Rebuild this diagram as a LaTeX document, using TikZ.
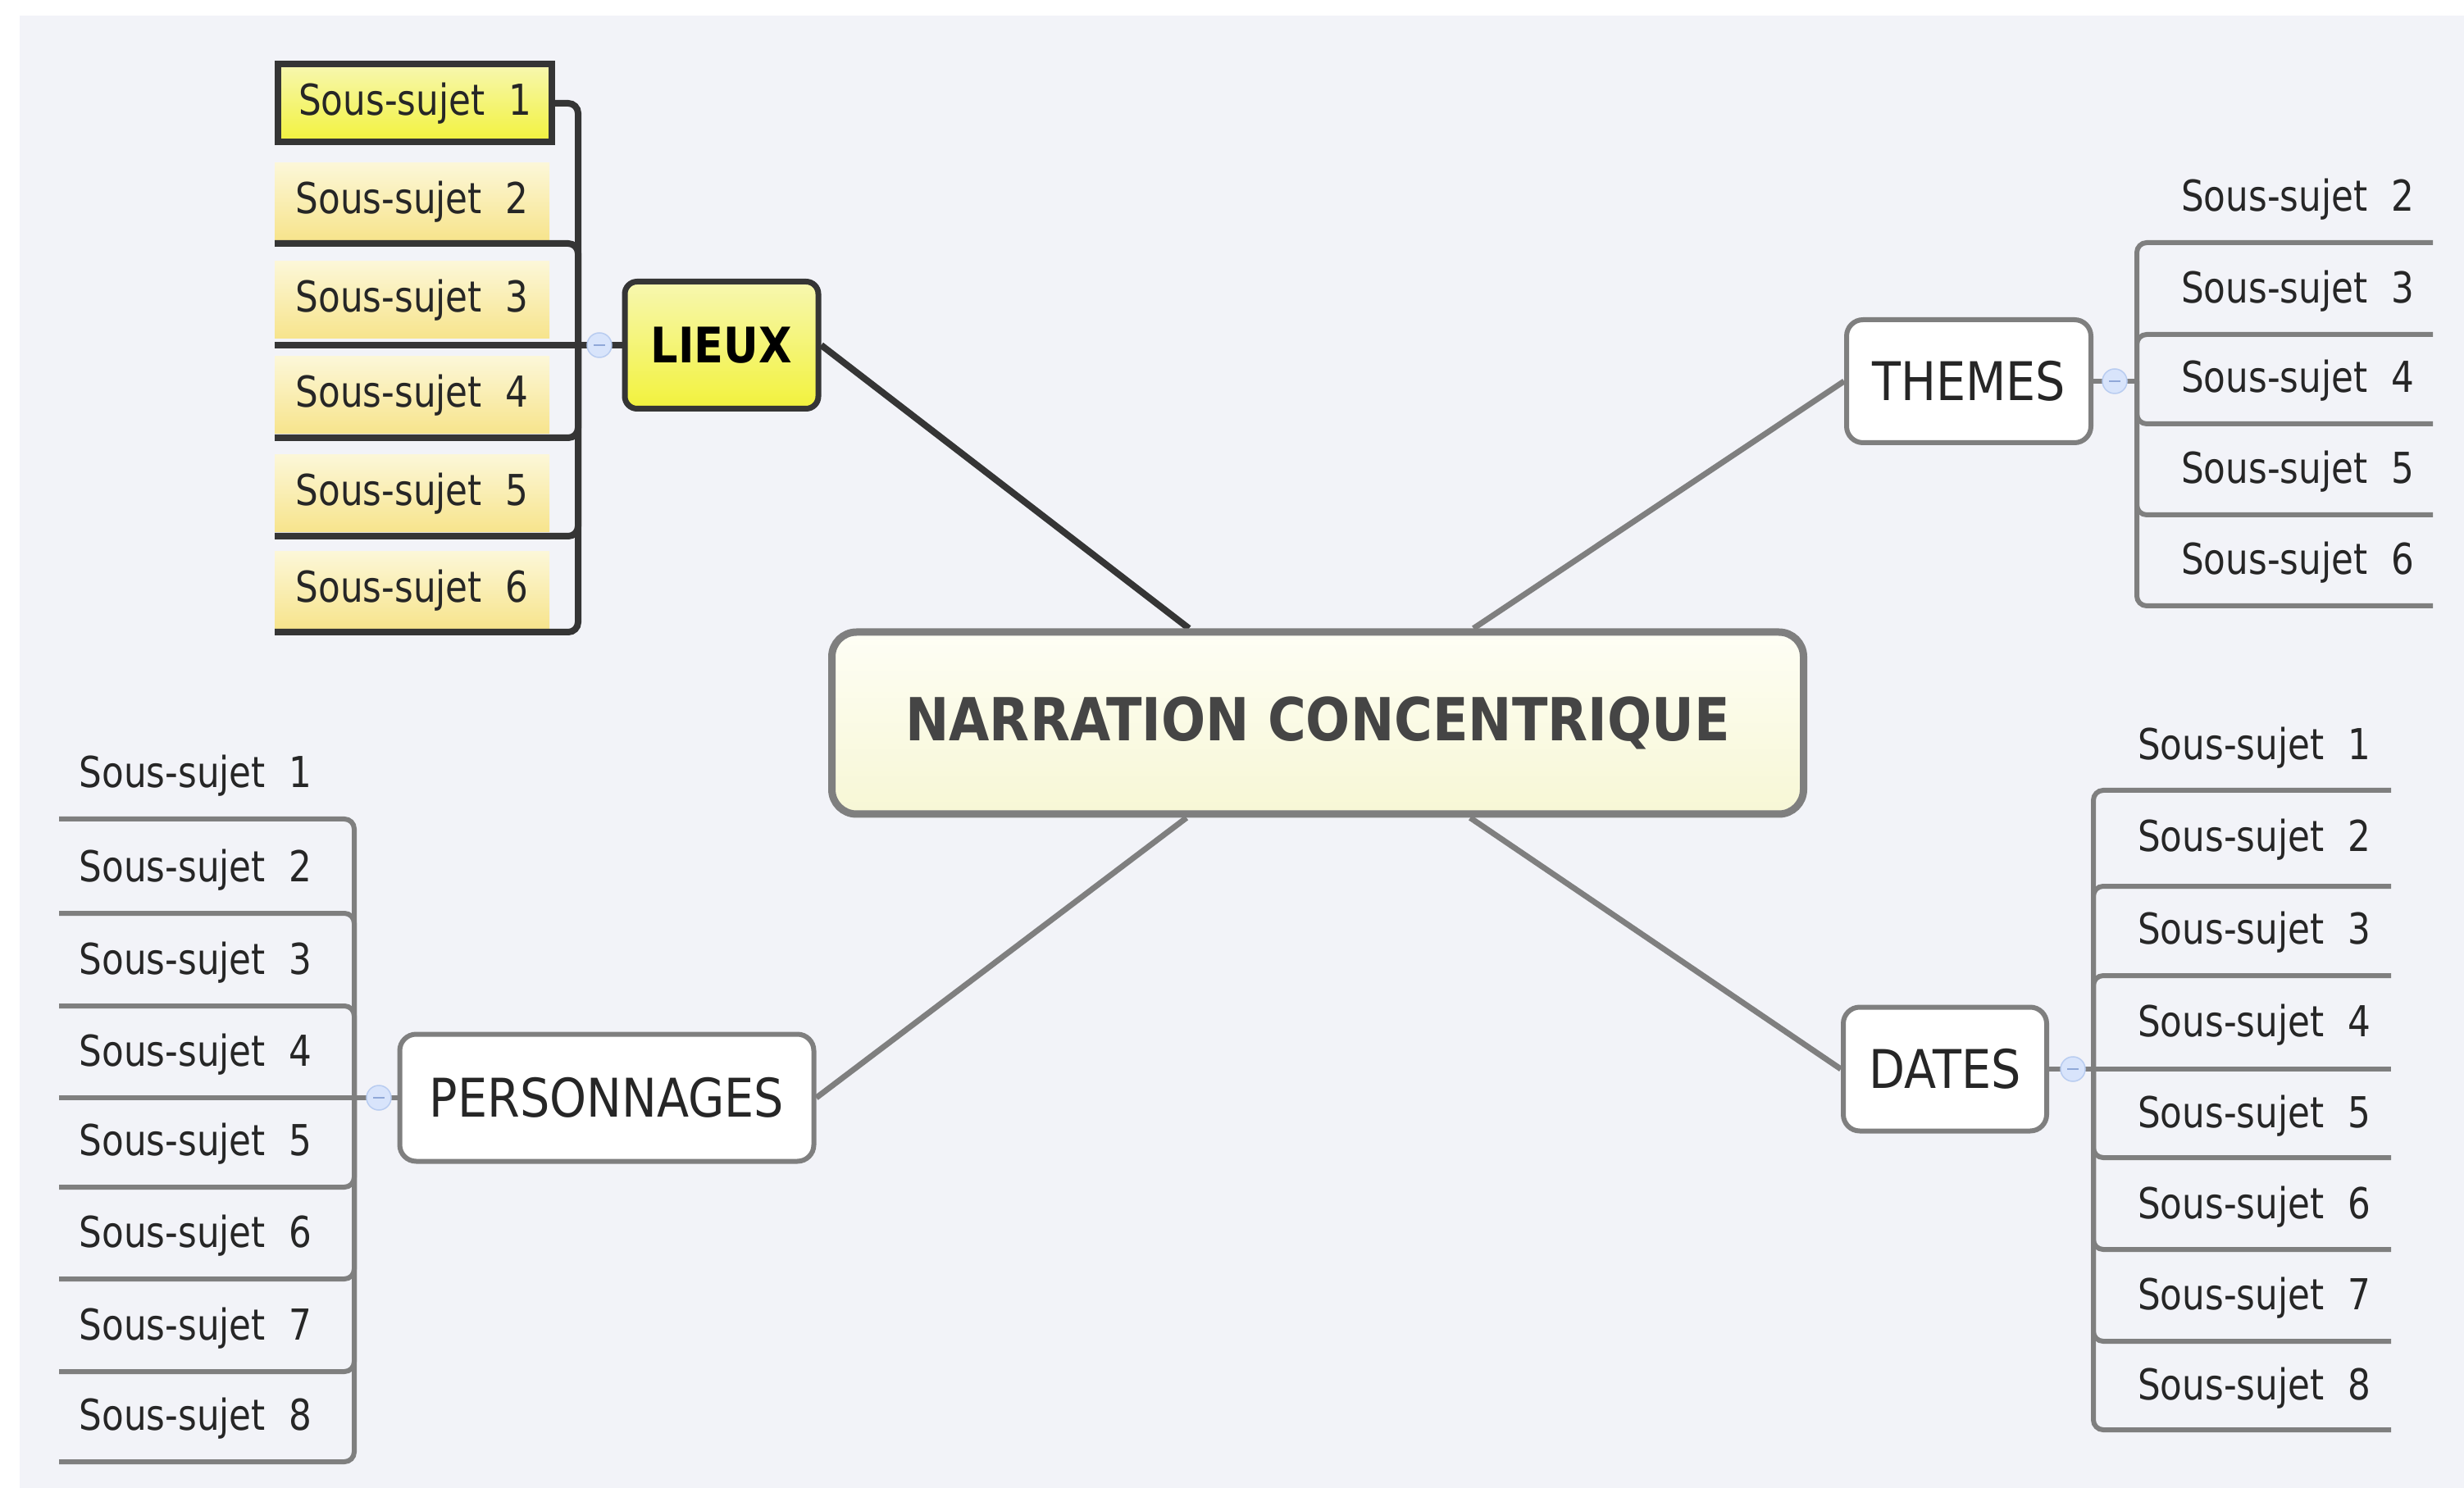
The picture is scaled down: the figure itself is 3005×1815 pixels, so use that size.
\documentclass[tikz,border=0pt]{standalone}
\usepackage{fontspec}
\setmainfont[FakeStretch=0.88]{DejaVu Sans}
\newfontfamily\subfam[FakeStretch=0.84]{DejaVu Sans}
\newcommand\fsub{\subfam\fontsize{14.8pt}{16pt}\selectfont}
\newcommand\fmain{\fontsize{18.5pt}{20pt}\selectfont}
\newcommand\flieu{\fontsize{17pt}{19pt}\selectfont}
\newcommand\fcen{\fontsize{20.6pt}{22pt}\selectfont}
\newcommand\soussujet[1]{Sous-sujet\hspace{0.55em}#1}
\pgfdeclarelayer{panel}
\pgfdeclarelayer{bg}
\pgfsetlayers{panel,bg,main}
\definecolor{bgc}{HTML}{F2F3F8}
\definecolor{dk}{HTML}{353535}
\definecolor{gmid}{HTML}{7F7F7F}
\definecolor{txt}{HTML}{262626}
\definecolor{txtc}{HTML}{454545}
\definecolor{cTop}{HTML}{FEFEF5}
\definecolor{cBot}{HTML}{F7F7D5}
\definecolor{yTop}{HTML}{F7F7B0}
\definecolor{yBot}{HTML}{F2F23C}
\definecolor{pTop}{HTML}{FCF7D8}
\definecolor{pBot}{HTML}{F7E48C}
\definecolor{cbFill}{HTML}{D8E4FB}
\definecolor{cbDraw}{HTML}{B8CCF0}
\definecolor{cbMinus}{HTML}{90A8D8}
\begin{document}
\begin{tikzpicture}[x=0.1mm,y=-0.1mm,
  central/.style={draw=gmid, line width=0.9mm, rounded corners=3mm, top color=cTop, bottom color=cBot,
    minimum width=118.5mm, minimum height=22.2mm, font=\fcen\bfseries, text=txtc, inner sep=0},
  mainbox/.style={draw=gmid, line width=0.6mm, rounded corners=2mm, fill=white, font=\fmain, text=txt, inner sep=0},
  lieuxbox/.style={draw=dk, line width=0.7mm, rounded corners=1.5mm, top color=yTop, bottom color=yBot,
    font=\flieu\bfseries, text=black, inner sep=0, minimum width=23.6mm, minimum height=15.5mm},
  selbox/.style={draw=dk, line width=0.8mm, top color=yTop, bottom color=yBot, font=\fsub, text=txt,
    inner sep=0, minimum width=33.4mm, minimum height=9.5mm},
  subfill/.style={top color=pTop, bottom color=pBot, draw=none, font=\fsub, text=txt,
    inner sep=0, minimum width=33.5mm, minimum height=9.4mm},
  sublabel/.style={font=\fsub, text=txt, inner sep=0},
  dkline/.style={draw=dk, line width=0.8mm, rounded corners=1.2mm},
  gline/.style={draw=gmid, line width=0.6mm, rounded corners=1.2mm},
  dkmain/.style={draw=dk, line width=0.8mm},
  gmain/.style={draw=gmid, line width=0.7mm},
  collapse/.style={circle, minimum size=3mm, fill=cbFill, draw=cbDraw, line width=0.15mm, inner sep=0},
  minus/.style={draw=cbMinus, line width=0.2mm}
]
\useasboundingbox (0,0) rectangle (3005,1815);
\begin{pgfonlayer}{panel}
  \fill[bgc] (24,19) rectangle (3005,1815);
\end{pgfonlayer}

% main nodes
\node[central] (cen) at (1607,882) {NARRATION CONCENTRIQUE};
\node[lieuxbox] (lieux) at (880,421) {LIEUX};
\node[mainbox, minimum width=29.8mm, minimum height=15mm] (themes) at (2401,465) {THEMES};
\node[mainbox, minimum width=24.8mm, minimum height=15.1mm] (dates) at (2372,1304) {DATES};
\node[mainbox, minimum width=50.5mm, minimum height=15.5mm] (pers) at (740,1339) {PERSONNAGES};

% main connectors
\begin{pgfonlayer}{bg}
  \draw[dkmain] (lieux.east) -- ([xshift=-15.7mm]cen.north);
  \draw[gmain] ([xshift=19mm]cen.north) -- (themes.west);
  \draw[gmain] ([xshift=-16mm]cen.south) -- (pers.east);
  \draw[gmain] ([xshift=18.6mm]cen.south) -- (dates.west);
\end{pgfonlayer}

% LIEUX subtopics
\node[subfill] (l2) at (502.5,246) {\soussujet{2}};
\node[subfill] (l3) at (502.5,366) {\soussujet{3}};
\node[subfill] (l4) at (502.5,482) {\soussujet{4}};
\node[subfill] (l5) at (502.5,602) {\soussujet{5}};
\node[subfill] (l6) at (502.5,720) {\soussujet{6}};
\node[selbox] (l1) at (506,126) {\soussujet{1}};
\coordinate (lj) at (705,421);
\coordinate (lu2) at (335,297);
\coordinate (lu3) at (335,421);
\coordinate (lu4) at (335,534);
\coordinate (lu5) at (335,654);
\coordinate (lu6) at (335,771);
\draw[dkline] (lieux.west) -- (lj);
\draw[dkline] (lj) |- (l1.east);
\draw[dkline] (lj) |- (lu2);
\draw[dkline] (lj) -- (lu3);
\draw[dkline] (lj) |- (lu4);
\draw[dkline] (lj) |- (lu5);
\draw[dkline] (lj) |- (lu6);
\node[collapse] (cbl) at (731,421) {};
\draw[minus] ([xshift=-0.7mm]cbl.center) -- ([xshift=0.7mm]cbl.center);

% THEMES subtopics
\node[sublabel] (t2) at (2802,243) {\soussujet{2}};
\node[sublabel] (t3) at (2802,355) {\soussujet{3}};
\node[sublabel] (t4) at (2802,464) {\soussujet{4}};
\node[sublabel] (t5) at (2802,575) {\soussujet{5}};
\node[sublabel] (t6) at (2802,686) {\soussujet{6}};
\coordinate (tj) at (2606,465);
\coordinate (tu2) at (2967,296);
\coordinate (tu3) at (2967,408);
\coordinate (tu4) at (2967,517);
\coordinate (tu5) at (2967,628);
\coordinate (tu6) at (2967,739);
\draw[gline] (themes.east) -- (tj);
\foreach \c in {tu2,tu3,tu4,tu5,tu6} \draw[gline] (tj) |- (\c);
\node[collapse] (cbt) at (2579,465) {};
\draw[minus] ([xshift=-0.7mm]cbt.center) -- ([xshift=0.7mm]cbt.center);

% DATES subtopics
\node[sublabel] (d1) at (2749,912) {\soussujet{1}};
\node[sublabel] (d2) at (2749,1024) {\soussujet{2}};
\node[sublabel] (d3) at (2749,1137) {\soussujet{3}};
\node[sublabel] (d4) at (2749,1250) {\soussujet{4}};
\node[sublabel] (d5) at (2749,1361) {\soussujet{5}};
\node[sublabel] (d6) at (2749,1472) {\soussujet{6}};
\node[sublabel] (d7) at (2749,1583) {\soussujet{7}};
\node[sublabel] (d8) at (2749,1693) {\soussujet{8}};
\coordinate (dj) at (2553,1304);
\coordinate (du1) at (2916,964);
\coordinate (du2) at (2916,1081);
\coordinate (du3) at (2916,1190);
\coordinate (du4) at (2916,1304);
\coordinate (du5) at (2916,1412);
\coordinate (du6) at (2916,1524);
\coordinate (du7) at (2916,1636);
\coordinate (du8) at (2916,1744);
\draw[gline] (dates.east) -- (dj);
\draw[gline] (dj) -- (du4);
\foreach \c in {du1,du2,du3,du5,du6,du7,du8} \draw[gline] (dj) |- (\c);
\node[collapse] (cbd) at (2528,1304) {};
\draw[minus] ([xshift=-0.7mm]cbd.center) -- ([xshift=0.7mm]cbd.center);

% PERSONNAGES subtopics
\node[sublabel] (p1) at (238.5,946) {\soussujet{1}};
\node[sublabel] (p2) at (238.5,1061) {\soussujet{2}};
\node[sublabel] (p3) at (238.5,1174) {\soussujet{3}};
\node[sublabel] (p4) at (238.5,1286) {\soussujet{4}};
\node[sublabel] (p5) at (238.5,1395) {\soussujet{5}};
\node[sublabel] (p6) at (238.5,1507) {\soussujet{6}};
\node[sublabel] (p7) at (238.5,1620) {\soussujet{7}};
\node[sublabel] (p8) at (238.5,1730) {\soussujet{8}};
\coordinate (pj) at (432,1339);
\coordinate (pu1) at (72,999);
\coordinate (pu2) at (72,1114);
\coordinate (pu3) at (72,1227);
\coordinate (pu4) at (72,1339);
\coordinate (pu5) at (72,1448);
\coordinate (pu6) at (72,1560);
\coordinate (pu7) at (72,1673);
\coordinate (pu8) at (72,1783);
\draw[gline] (pers.west) -- (pj);
\draw[gline] (pj) -- (pu4);
\foreach \c in {pu1,pu2,pu3,pu5,pu6,pu7,pu8} \draw[gline] (pj) |- (\c);
\node[collapse] (cbp) at (462,1339) {};
\draw[minus] ([xshift=-0.7mm]cbp.center) -- ([xshift=0.7mm]cbp.center);
\end{tikzpicture}
\end{document}
